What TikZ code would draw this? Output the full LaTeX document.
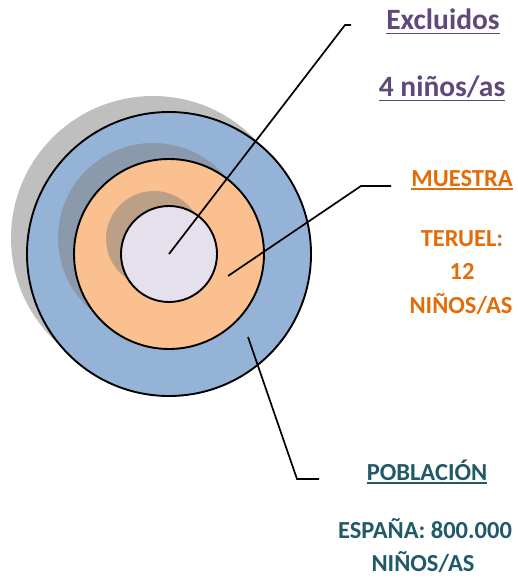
\documentclass[tikz,border=0pt]{standalone}
\usepackage{fontspec}
\setmainfont{Carlito}
\definecolor{purp}{HTML}{5F497A}
\definecolor{orng}{HTML}{E36C09}
\definecolor{teal2}{HTML}{215968}
\definecolor{blueF}{HTML}{95B3D7}
\definecolor{orngF}{HTML}{FAC090}
\definecolor{lilac}{HTML}{E5E0EC}
\begin{document}
\begin{tikzpicture}[x=1pt,y=-1pt,
  ring/.style={circle, draw=black, line width=1.9pt, inner sep=0pt},
  shadowc/.style={circle, fill=gray, fill opacity=0.5, inner sep=0pt},
  lbl/.style={inner sep=0pt, anchor=base, font=\bfseries\fontsize{24.5}{28}\selectfont},
  biglbl/.style={lbl, font=\bfseries\fontsize{29.5}{32}\selectfont},
  lead/.style={draw=black, line width=1.7pt},
  uline/.style={line width=1.7pt}]
\useasboundingbox (0,0) rectangle (517,580);
% circles with shadows
\node[shadowc, minimum size=284pt] (shA) at (153,238) {};
\node[ring, fill=blueF, minimum size=284pt] (pob) at (169,254) {};
\node[shadowc, minimum size=190pt] (shB) at (153,238) {};
\node[ring, fill=orngF, minimum size=190pt] (mue) at (169,254) {};
\node[shadowc, minimum size=96pt] (shC) at (154,239) {};
\node[ring, fill=lilac, minimum size=96pt] (exc) at (169,254) {};
% labels
\node[biglbl, text=purp] (texc) at (443,30) {Excluidos};
\node[biglbl, text=purp] (tnum) at (442,97) {4 niños/as};
\node[lbl, text=orng] (tmue) at (462,186) {MUESTRA};
\node[lbl, text=orng] (tter) at (462,246) {TERUEL:};
\node[lbl, text=orng] (tdoce) at (462,279) {12};
\node[lbl, text=orng] (tnin1) at (461,313) {NIÑOS/AS};
\node[lbl, text=teal2] (tpob) at (427,480) {POBLACIÓN};
\node[lbl, text=teal2] (tesp) at (425,538) {ESPAÑA: 800.000};
\node[lbl, text=teal2] (tnin2) at (423,571) {NIÑOS/AS};
% underlines
\draw[uline, purp] ([yshift=-3.5pt]texc.base west) -- ([yshift=-3.5pt]texc.base east);
\draw[uline, purp] ([yshift=-3.5pt]tnum.base west) -- ([yshift=-3.5pt]tnum.base east);
\draw[uline, orng] ([yshift=-3pt]tmue.base west) -- ([yshift=-3pt]tmue.base east);
\draw[uline, teal2] ([yshift=-3pt]tpob.base west) -- ([yshift=-3pt]tpob.base east);
% leader lines
\coordinate (pExc) at (169,254);
\coordinate (kExc) at (345,25);
\coordinate (eExc) at (351,25);
\coordinate (pMue) at (228,276);
\coordinate (kMue) at (361,186);
\coordinate (eMue) at (391,186);
\coordinate (pPob) at (248,337);
\coordinate (kPob) at (297,479);
\coordinate (ePob) at (319,479);
\draw[lead] (pExc) -- (kExc) -- (eExc);
\draw[lead] (pMue) -- (kMue) -- (eMue);
\draw[lead] (pPob) -- (kPob) -- (ePob);
\end{tikzpicture}
\end{document}
